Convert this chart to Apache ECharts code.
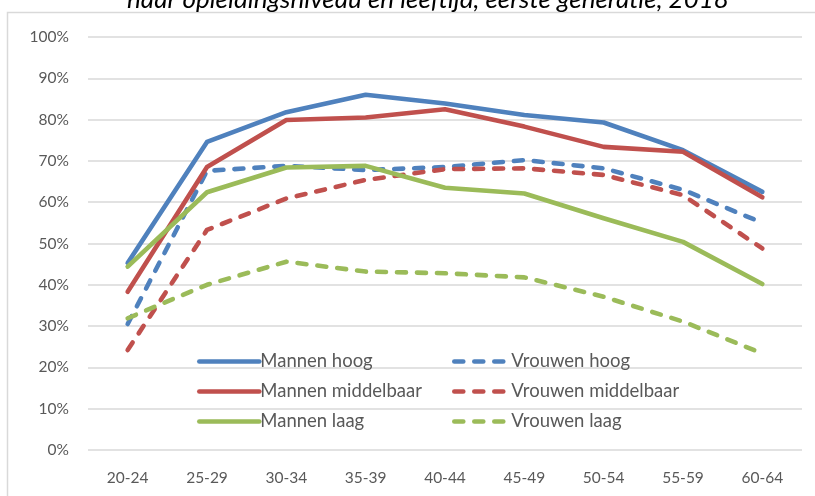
<!DOCTYPE html>
<html>
<head>
<meta charset="utf-8">
<script src="https://cdn.jsdelivr.net/npm/echarts@6/dist/echarts.min.js"></script>
<style>
  html, body { margin: 0; padding: 0; background: #ffffff; }
  #chart { width: 815px; height: 496px; }
</style>
</head>
<body>
<div id="chart"></div>
<script>
// Leeftijdsklassen
const categories = ['20-24', '25-29', '30-34', '35-39', '40-44', '45-49', '50-54', '55-59', '60-64'];

// Percentages per groep (opleidingsniveau x geslacht)
const mannenHoog        = [45.3, 74.6, 81.8, 86.0, 83.9, 81.1, 79.3, 72.6, 62.5];
const mannenMiddelbaar  = [38.3, 68.5, 79.9, 80.5, 82.5, 78.3, 73.4, 72.2, 61.2];
const mannenLaag        = [44.4, 62.4, 68.4, 68.8, 63.5, 62.1, 56.1, 50.4, 40.2];
const vrouwenHoog       = [30.5, 67.6, 68.8, 67.8, 68.5, 70.2, 68.2, 63.0, 55.0];
const vrouwenMiddelbaar = [24.2, 53.3, 60.9, 65.4, 68.0, 68.2, 66.6, 61.7, 48.8];
const vrouwenLaag       = [31.9, 40.0, 45.6, 43.2, 42.8, 41.8, 37.1, 31.1, 23.4];

const titleText = 'naar opleidingsniveau en leeftijd, eerste generatie, 2018';

const BLUE = '#4F81BD', RED = '#C0504D', GREEN = '#9BBB59';
const FONT = 'Lato, "Open Sans", sans-serif';
const DASH = [9, 11];
const LINE_W = 4.6;

function lineSeries(name, data, color, dashed) {
  return {
    name: name,
    type: 'line',
    data: data,
    symbol: 'none',
    smooth: false,
    lineStyle: {
      color: color,
      width: LINE_W,
      type: dashed ? DASH : 'solid',
      cap: 'round',
      join: 'round'
    },
    itemStyle: { color: color },
    emphasis: { disabled: true },
    z: dashed ? 2 : 3
  };
}

const legendCommon = {
  orient: 'vertical',
  top: 352,
  itemHeight: 14,
  itemGap: 11,
  selectedMode: false,
  itemStyle: { opacity: 0 },
  lineStyle: { width: LINE_W, cap: 'round' },
  textStyle: { color: '#595959', fontSize: 18.5, fontFamily: FONT, padding: [0, 0, 0, -4] },
  padding: 0
};

const chart = echarts.init(document.getElementById('chart'), null, { renderer: 'canvas' });

chart.setOption({
  animation: false,
  backgroundColor: '#ffffff',
  graphic: [
    {
      type: 'rect',
      shape: { x: 7.5, y: 12.5, width: 830, height: 500 },
      style: { fill: 'none', stroke: '#D9D9D9', lineWidth: 1.5 },
      silent: true,
      z: -10
    },
    {
      type: 'text',
      x: 428,
      y: -0.5,
      style: {
        text: titleText,
        fill: '#000000',
        font: 'italic 26px ' + FONT,
        textAlign: 'center',
        textVerticalAlign: 'middle'
      },
      silent: true
    }
  ],
  grid: { left: 88, right: 13, top: 37, bottom: 46, containLabel: false },
  legend: [
    Object.assign({}, legendCommon, {
      left: 197,
      itemWidth: 60,
      data: ['Mannen hoog', 'Mannen middelbaar', 'Mannen laag']
    }),
    Object.assign({}, legendCommon, {
      left: 452,
      itemWidth: 56,
      data: ['Vrouwen hoog', 'Vrouwen middelbaar', 'Vrouwen laag']
    })
  ],
  xAxis: {
    type: 'category',
    data: categories,
    boundaryGap: true,
    axisLine: { show: false },
    axisTick: { show: false },
    axisLabel: { color: '#595959', fontSize: 15.5, fontFamily: FONT, margin: 20 }
  },
  yAxis: {
    type: 'value',
    min: 0,
    max: 100,
    interval: 10,
    axisLine: { show: false },
    axisTick: { show: false },
    splitLine: { lineStyle: { color: '#D9D9D9', width: 1.5 } },
    axisLabel: {
      color: '#595959',
      fontSize: 15.5,
      fontFamily: FONT,
      margin: 19,
      formatter: '{value}%'
    }
  },
  series: [
    lineSeries('Mannen hoog', mannenHoog, BLUE, false),
    lineSeries('Vrouwen hoog', vrouwenHoog, BLUE, true),
    lineSeries('Mannen middelbaar', mannenMiddelbaar, RED, false),
    lineSeries('Vrouwen middelbaar', vrouwenMiddelbaar, RED, true),
    lineSeries('Mannen laag', mannenLaag, GREEN, false),
    lineSeries('Vrouwen laag', vrouwenLaag, GREEN, true)
  ]
});
</script>
</body>
</html>
